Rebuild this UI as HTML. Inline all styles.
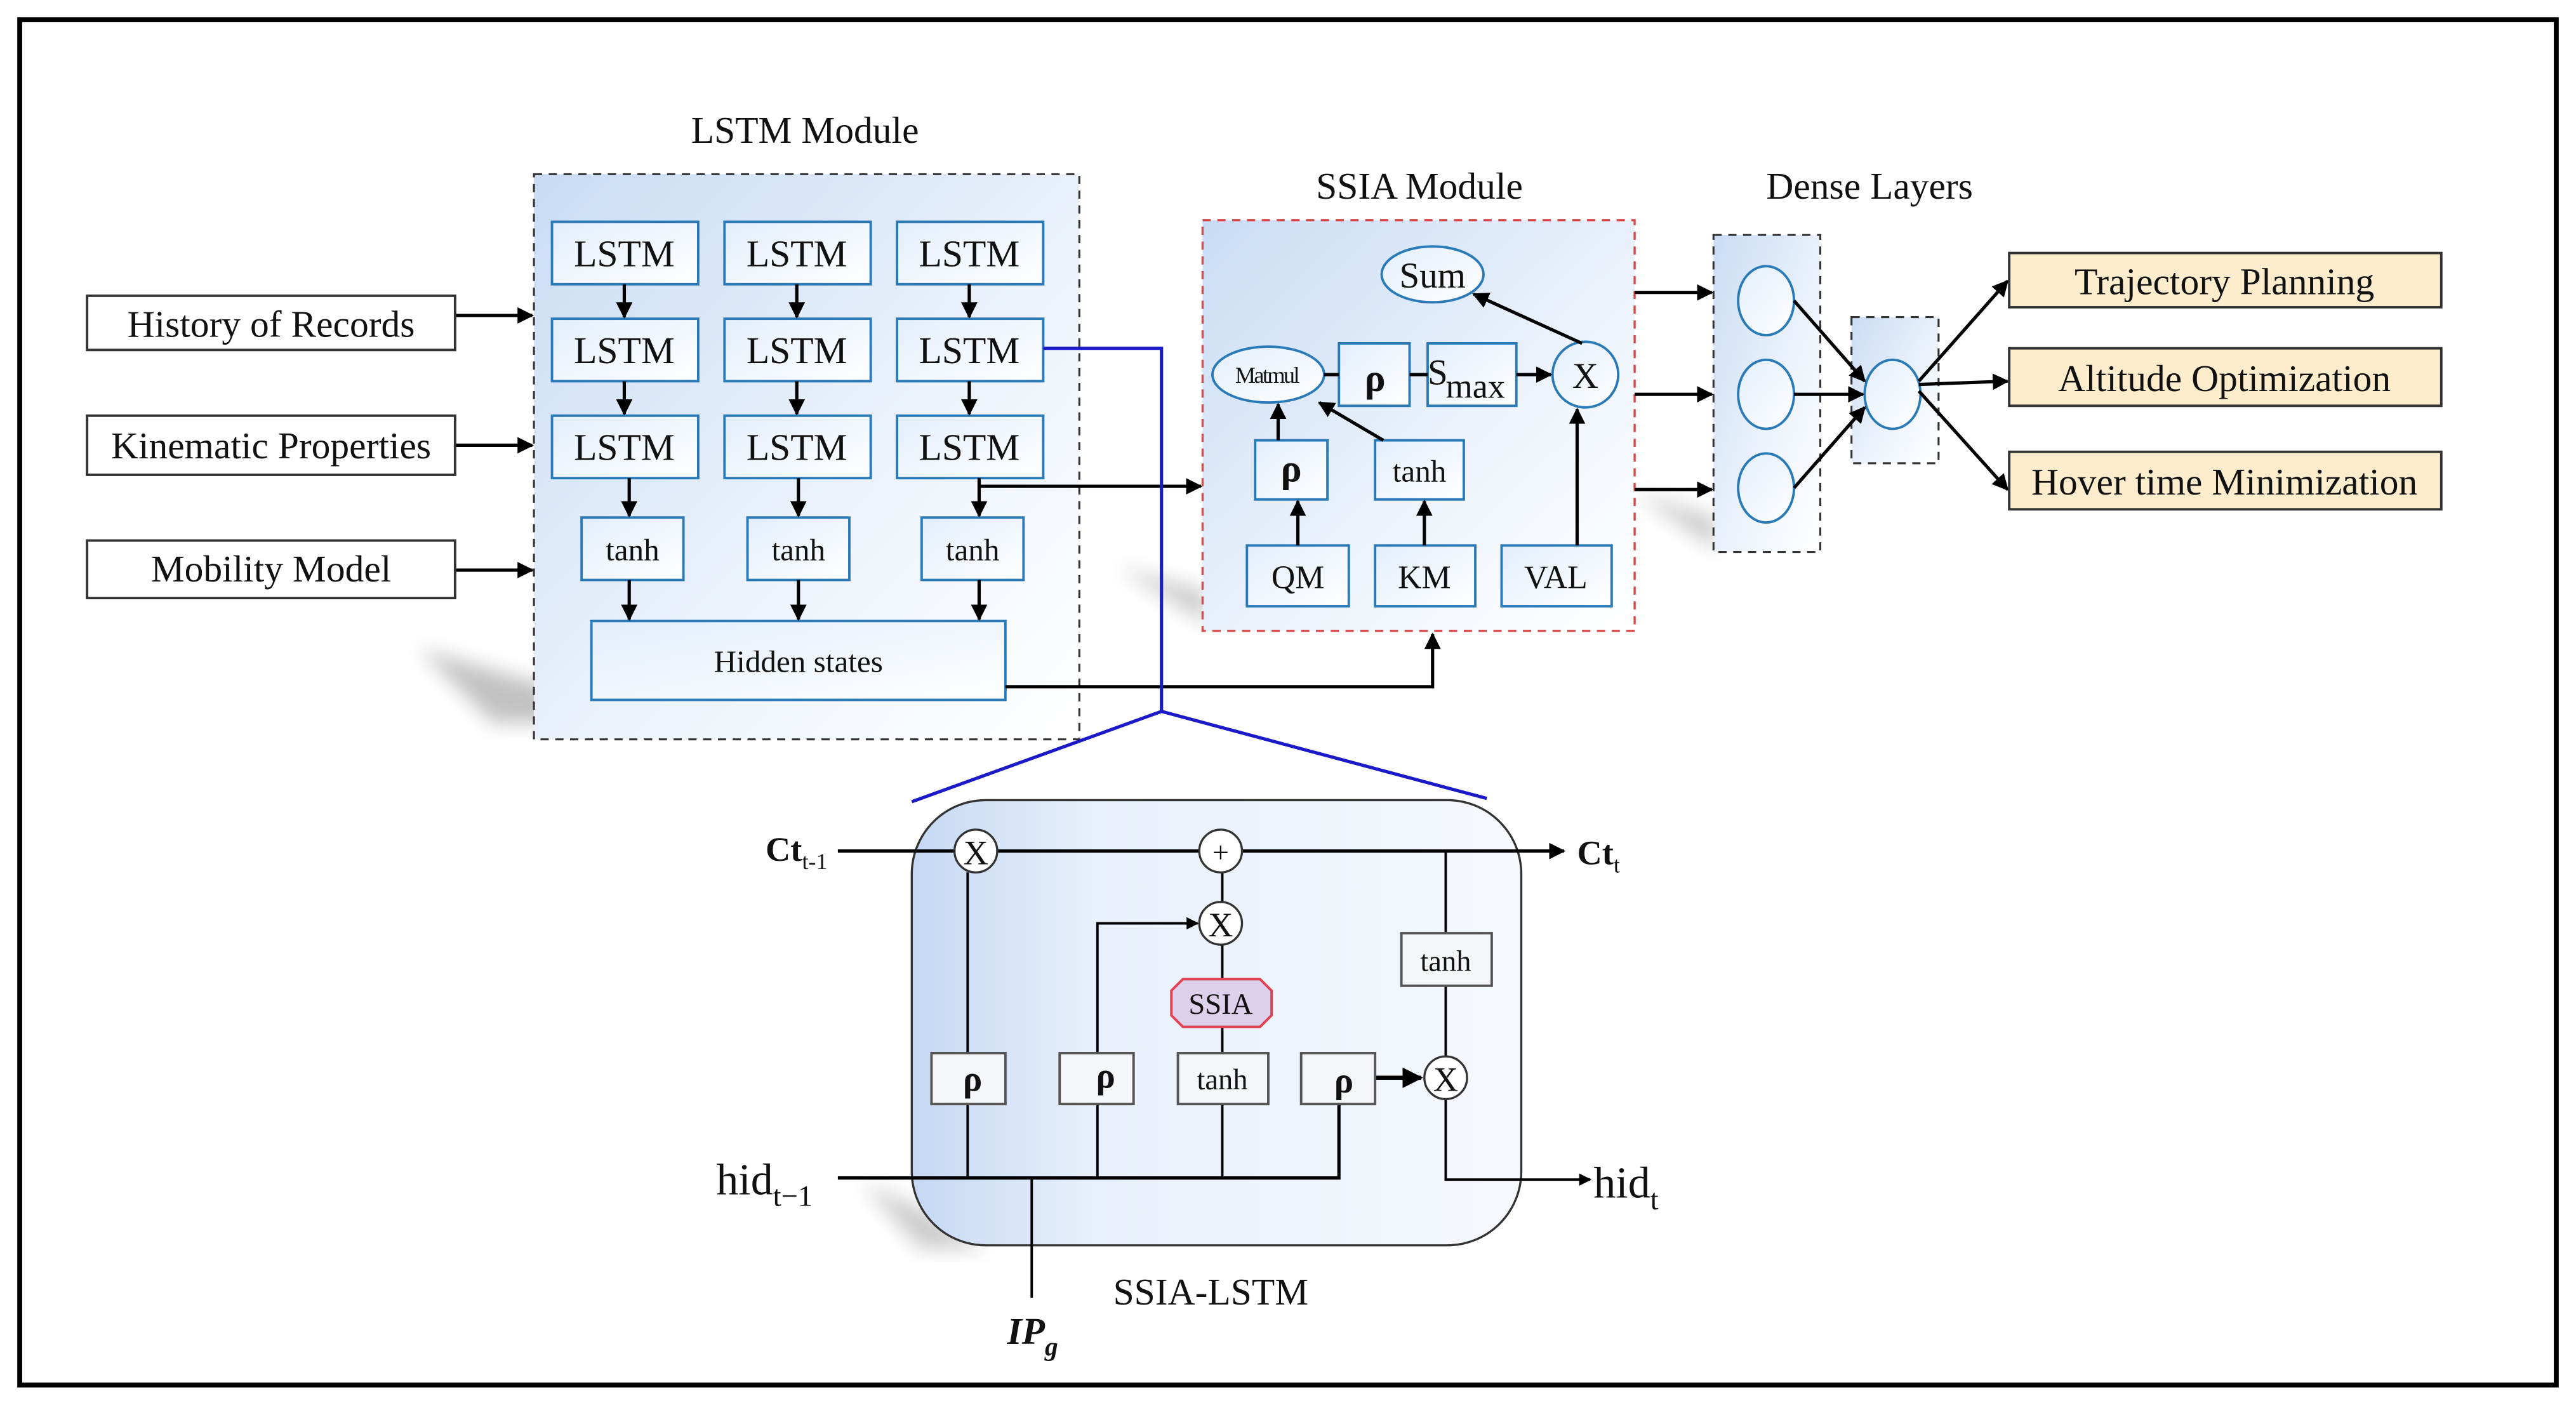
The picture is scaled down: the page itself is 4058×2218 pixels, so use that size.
<!DOCTYPE html>
<html><head><meta charset="utf-8"><style>
html,body{margin:0;padding:0;background:#fff}
svg{display:block}
text{font-family:"Liberation Serif",serif;fill:#111}
</style></head><body>
<svg width="4058" height="2218" viewBox="0 0 1568 857" xmlns="http://www.w3.org/2000/svg">
<defs>
<linearGradient id="bg" x1="0" y1="0" x2="1" y2="1"><stop offset="0" stop-color="#c9dcf5"/><stop offset="0.6" stop-color="#eef4fc"/><stop offset="1" stop-color="#fff"/></linearGradient>
<linearGradient id="bx" x1="0" y1="0" x2="1" y2="1"><stop offset="0" stop-color="#e3eefb"/><stop offset="1" stop-color="#fff"/></linearGradient>
<linearGradient id="cell" x1="0" y1="0" x2="1" y2="0"><stop offset="0" stop-color="#c5d8f3"/><stop offset="0.3" stop-color="#e8f0fb"/><stop offset="1" stop-color="#f6f9fe"/></linearGradient>
<marker id="a" viewBox="0 0 10 10" refX="9" refY="5" markerWidth="5" markerHeight="5" orient="auto"><path d="M0,0L10,5L0,10z" fill="#000"/></marker>
<filter id="sh" x="-20%" y="-20%" width="140%" height="140%"><feGaussianBlur stdDeviation="6"/></filter>
</defs>
<rect x="12" y="12" width="1544" height="831" fill="none" stroke="#000" stroke-width="3"/>

<!-- shadows -->
<path d="M255,395 L360,425 L360,440 L300,440z" fill="#999" filter="url(#sh)" opacity="0.6"/>
<path d="M680,345 L735,360 L735,380z" fill="#999" filter="url(#sh)" opacity="0.5"/>
<path d="M995,300 L1045,315 L1045,335z" fill="#999" filter="url(#sh)" opacity="0.5"/>
<path d="M525,720 L560,735 L600,760 L560,760z" fill="#999" filter="url(#sh)" opacity="0.5"/>

<!-- LSTM module -->
<text x="490" y="87" font-size="23" text-anchor="middle">LSTM Module</text>
<rect x="325" y="106" width="332" height="344" fill="url(#bg)" stroke="#333" stroke-width="1.2" stroke-dasharray="5,4"/>
<g stroke="#2a7ab8" stroke-width="1.5" fill="url(#bx)">
<rect x="336" y="135" width="89" height="38"/><rect x="441" y="135" width="89" height="38"/><rect x="546" y="135" width="89" height="38"/>
<rect x="336" y="194" width="89" height="38"/><rect x="441" y="194" width="89" height="38"/><rect x="546" y="194" width="89" height="38"/>
<rect x="336" y="253" width="89" height="38"/><rect x="441" y="253" width="89" height="38"/><rect x="546" y="253" width="89" height="38"/>
<rect x="354" y="315" width="62" height="38"/><rect x="455" y="315" width="62" height="38"/><rect x="561" y="315" width="62" height="38"/>
<rect x="360" y="378" width="252" height="48"/>
</g>
<g font-size="23" text-anchor="middle">
<text x="380" y="162">LSTM</text><text x="485" y="162">LSTM</text><text x="590" y="162">LSTM</text>
<text x="380" y="221">LSTM</text><text x="485" y="221">LSTM</text><text x="590" y="221">LSTM</text>
<text x="380" y="280">LSTM</text><text x="485" y="280">LSTM</text><text x="590" y="280">LSTM</text>
</g>
<g font-size="19" text-anchor="middle">
<text x="385" y="341">tanh</text><text x="486" y="341">tanh</text><text x="592" y="341">tanh</text>
<text x="486" y="409">Hidden states</text>
</g>
<g stroke="#000" stroke-width="2" marker-end="url(#a)">
<line x1="380" y1="173" x2="380" y2="193"/><line x1="485" y1="173" x2="485" y2="193"/><line x1="590" y1="173" x2="590" y2="193"/>
<line x1="380" y1="232" x2="380" y2="252"/><line x1="485" y1="232" x2="485" y2="252"/><line x1="590" y1="232" x2="590" y2="252"/>
<line x1="383" y1="291" x2="383" y2="314"/><line x1="486" y1="291" x2="486" y2="314"/><line x1="596" y1="291" x2="596" y2="314"/>
<line x1="383" y1="353" x2="383" y2="377"/><line x1="486" y1="353" x2="486" y2="377"/><line x1="596" y1="353" x2="596" y2="377"/>
<line x1="277" y1="192" x2="324" y2="192"/><line x1="277" y1="271" x2="324" y2="271"/><line x1="277" y1="347" x2="324" y2="347"/>
<polyline points="596,296 731,296" fill="none"/>
<polyline points="612,418 872,418 872,386" fill="none"/>
</g>

<!-- inputs -->
<g stroke="#333" stroke-width="1.5" fill="#fff">
<rect x="53" y="180" width="224" height="33"/><rect x="53" y="253" width="224" height="36"/><rect x="53" y="329" width="224" height="35"/>
</g>
<g font-size="23" text-anchor="middle">
<text x="165" y="205">History of Records</text><text x="165" y="279">Kinematic Properties</text><text x="165" y="354">Mobility Model</text>
</g>

<!-- blue zoom lines -->
<polyline points="635,212 707,212 707,433" fill="none" stroke="#1a1ac8" stroke-width="2"/>
<line x1="707" y1="433" x2="555" y2="488" stroke="#1a1ac8" stroke-width="2"/>
<line x1="707" y1="433" x2="905" y2="486" stroke="#1a1ac8" stroke-width="2"/>

<!-- SSIA module -->
<text x="864" y="121" font-size="23" text-anchor="middle">SSIA Module</text>
<rect x="732" y="134" width="263" height="250" fill="url(#bg)" stroke="#d94848" stroke-width="1.3" stroke-dasharray="5,4"/>
<g stroke="#2a7ab8" stroke-width="1.5" fill="url(#bx)">
<ellipse cx="872" cy="167" rx="31" ry="17"/>
<ellipse cx="772" cy="228" rx="34" ry="17"/>
<rect x="815" y="209" width="43" height="38"/>
<rect x="869" y="209" width="54" height="38"/>
<circle cx="965" cy="228" r="20"/>
<rect x="764" y="268" width="44" height="36"/>
<rect x="837" y="268" width="54" height="36"/>
<rect x="759" y="332" width="62" height="37"/>
<rect x="837" y="332" width="61" height="37"/>
<rect x="914" y="332" width="67" height="37"/>
</g>
<g stroke="#000" stroke-width="2" fill="none">
<line x1="806" y1="228" x2="815" y2="228"/><line x1="858" y1="228" x2="869" y2="228"/>
<line x1="923" y1="228" x2="944" y2="228" marker-end="url(#a)"/>
<line x1="963" y1="209" x2="897" y2="179" marker-end="url(#a)"/>
<line x1="778" y1="268" x2="778" y2="246" marker-end="url(#a)"/>
<line x1="790" y1="332" x2="790" y2="305" marker-end="url(#a)"/>
<line x1="867" y1="332" x2="867" y2="305" marker-end="url(#a)"/>
<line x1="842" y1="268" x2="803" y2="245" marker-end="url(#a)"/>
<line x1="960" y1="332" x2="960" y2="249" marker-end="url(#a)"/>
</g>
<text x="872" y="175" font-size="22" text-anchor="middle">Sum</text>
<text x="771" y="233" font-size="14" text-anchor="middle" letter-spacing="-1">Matmul</text>
<text x="837" y="238" font-size="24" font-weight="bold" text-anchor="middle" font-family="Liberation Sans,sans-serif">ρ</text>
<text x="869" y="234" font-size="22">S</text><text x="880" y="242" font-size="21">max</text>
<text x="965" y="236" font-size="22" text-anchor="middle">X</text>
<text x="786" y="293" font-size="24" font-weight="bold" text-anchor="middle" font-family="Liberation Sans,sans-serif">ρ</text>
<text x="864" y="293" font-size="19" text-anchor="middle">tanh</text>
<text x="790" y="358" font-size="20" text-anchor="middle">QM</text>
<text x="867" y="358" font-size="20" text-anchor="middle">KM</text>
<text x="947" y="358" font-size="20" text-anchor="middle">VAL</text>

<!-- Dense layers -->
<text x="1138" y="121" font-size="23" text-anchor="middle">Dense Layers</text>
<rect x="1043" y="143" width="65" height="193" fill="url(#bg)" stroke="#333" stroke-width="1.2" stroke-dasharray="5,4"/>
<rect x="1127" y="193" width="53" height="89" fill="url(#bg)" stroke="#333" stroke-width="1.2" stroke-dasharray="5,4"/>
<g stroke="#2a7ab8" stroke-width="1.5" fill="url(#bx)">
<ellipse cx="1075" cy="183" rx="17" ry="21"/><ellipse cx="1075" cy="240" rx="17" ry="21"/><ellipse cx="1075" cy="297" rx="17" ry="21"/>
<ellipse cx="1152" cy="240" rx="17" ry="21"/>
</g>
<g stroke="#000" stroke-width="2" marker-end="url(#a)">
<line x1="995" y1="178" x2="1042" y2="178"/><line x1="995" y1="240" x2="1042" y2="240"/><line x1="995" y1="298" x2="1042" y2="298"/>
<line x1="1092" y1="183" x2="1135" y2="232"/><line x1="1092" y1="240" x2="1134" y2="240"/><line x1="1092" y1="297" x2="1135" y2="248"/>
<line x1="1168" y1="232" x2="1222" y2="171"/><line x1="1168" y1="234" x2="1222" y2="232"/><line x1="1168" y1="238" x2="1222" y2="298"/>
</g>
<g stroke="#333" stroke-width="1.5" fill="#fdedcc">
<rect x="1223" y="154" width="263" height="33"/><rect x="1223" y="212" width="263" height="35"/><rect x="1223" y="275" width="263" height="35"/>
</g>
<g font-size="23" text-anchor="middle">
<text x="1354" y="179">Trajectory Planning</text><text x="1354" y="238">Altitude Optimization</text><text x="1354" y="301">Hover time Minimization</text>
</g>

<!-- SSIA-LSTM cell -->
<rect x="555" y="487" width="371" height="271" rx="45" fill="url(#cell)" stroke="#333" stroke-width="1.3"/>
<g stroke="#000" stroke-width="2" fill="none">
<line x1="510" y1="518" x2="952" y2="518" marker-end="url(#a)"/>
<polyline points="510,717 815,717 815,672"/>
</g>
<g stroke="#000" stroke-width="1.5" fill="none">
<line x1="589" y1="531" x2="589" y2="717"/>
<polyline points="668,717 668,562 729,562" marker-end="url(#a)"/>
<line x1="744" y1="531" x2="744" y2="549"/>
<line x1="744" y1="575" x2="744" y2="717"/>
<line x1="880" y1="518" x2="880" y2="643"/>
<polyline points="880,669 880,718 968,718" marker-end="url(#a)"/>
<line x1="628" y1="717" x2="628" y2="790"/>
<line x1="837" y1="656" x2="865" y2="656" stroke-width="2.5" marker-end="url(#a)"/>
</g>
<g stroke="#333" stroke-width="1.3" fill="#fff">
<circle cx="594" cy="518" r="13"/><circle cx="743" cy="518" r="13"/><circle cx="743" cy="562" r="13"/><circle cx="880" cy="656" r="13"/>
</g>
<g stroke="#555" stroke-width="1.5" fill="#f4f6fa">
<rect x="567" y="641" width="45" height="31"/><rect x="645" y="641" width="45" height="31"/>
<rect x="717" y="641" width="55" height="31"/><rect x="792" y="641" width="45" height="31"/>
<rect x="853" y="568" width="55" height="32"/>
</g>
<polygon points="720,596 767,596 774,603 774,618 767,625 720,625 713,618 713,603" fill="#dcd0ea" stroke="#e04050" stroke-width="1.5"/>
<g font-size="21" text-anchor="middle">
<text x="594" y="526">X</text><text x="743" y="525" font-size="18">+</text><text x="743" y="570">X</text><text x="880" y="664">X</text>
</g>
<g font-size="22" font-weight="bold" text-anchor="middle" font-family="Liberation Sans,sans-serif">
<text x="592" y="664">ρ</text><text x="673" y="662">ρ</text><text x="818" y="665">ρ</text>
</g>
<g font-size="18" text-anchor="middle">
<text x="744" y="663">tanh</text><text x="880" y="591">tanh</text><text x="743" y="617">SSIA</text>
</g>
<text x="466" y="524" font-size="21" font-weight="bold" font-family="Liberation Sans,sans-serif">Ct<tspan font-size="14" font-weight="normal" dy="5">t-1</tspan></text>
<text x="960" y="526" font-size="21" font-weight="bold" font-family="Liberation Sans,sans-serif">Ct<tspan font-size="14" font-weight="normal" dy="5">t</tspan></text>
<text x="436" y="727" font-size="27">hid<tspan font-size="18" dy="7">t−1</tspan></text>
<text x="970" y="729" font-size="27">hid<tspan font-size="18" dy="7">t</tspan></text>
<text x="613" y="818" font-size="23" font-weight="bold" font-style="italic">IP<tspan font-size="16" dy="7">g</tspan></text>
<text x="737" y="794" font-size="23" text-anchor="middle">SSIA-LSTM</text>
</svg>
</body></html>
